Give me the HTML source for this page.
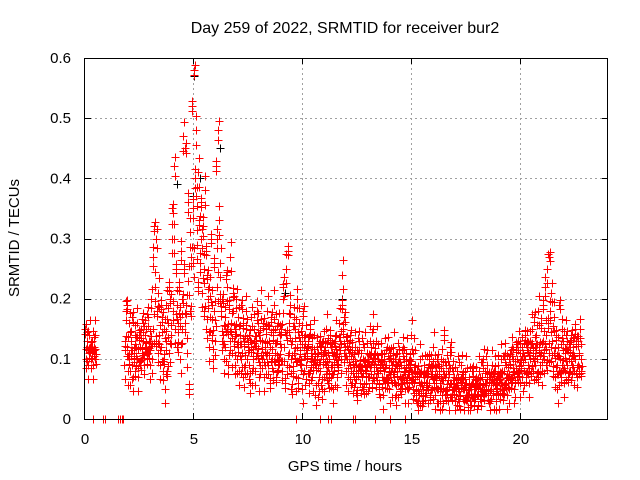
<!DOCTYPE html>
<html><head><meta charset="utf-8"><style>
body{margin:0;background:#fff;}
svg{display:block;font-family:"Liberation Sans",sans-serif;}
</style></head><body>
<svg id="chart" width="640" height="480">
<text x="345" y="33" font-size="16" text-anchor="middle">Day 259 of 2022, SRMTID for receiver bur2</text>
<text x="345" y="471" font-size="15" text-anchor="middle">GPS time / hours</text>
<text transform="translate(19,238) rotate(-90)" font-size="15" text-anchor="middle">SRMTID / TECUs</text>
<g id="grid"></g><g id="ticks"></g><g id="marks" shape-rendering="crispEdges"></g>
<rect x="84.5" y="58.5" width="523" height="361" fill="none" stroke="#000"/>
</svg>
<script>
// each hour row: 10 bins of 0.1 h, each bin a list of SRMTID values (TECU)
const hourRows = [
 [[.15,.10,.12],[.13,.09,.11],[.14,.12,.10],[.11,.13,.09],[.12,.14,.10],[],[],[],[],[]],
 [[],[],[],[],[],[],[],[],[.09,.13,.18],[.19,.12,.08]],
 [[.10,.16,.08],[.13,.09,.17],[.07,.11,.14],[.08,.12,.16],[.10,.07,.14],[.12,.09,.15],[.11,.16,.13],[.09,.14,.12],[.15,.10,.17],[.11,.13,.09]],
 [[.13,.20,.10],[.27,.15,.32],[.22,.13,.30],[.18,.11,.21],[.14,.09,.19],[.12,.17,.08],[.10,.15,.05],[.13,.19,.08],[.16,.22,.11],[.20,.14,.30]],
 [[.35,.18,.30],[.42,.15,.25],[.19,.12,.16],[.22,.17,.10],[.28,.15,.20],[.47,.25,.16],[.45,.19,.11],[.36,.23,.05],[.31,.18,.27],[.52,.35,.26]],
 [[.58,.40,.48],[.37,.29,.22],[.41,.33,.26],[.36,.30,.21],[.32,.25,.18],[.38,.28,.15],[.24,.20,.12],[.22,.17,.30],[.19,.14,.10],[.26,.18,.13]],
 [[.42,.30,.22],[.48,.33,.20],[.26,.18,.13],[.20,.14,.10],[.17,.12,.24],[.22,.15,.09],[.19,.13,.27],[.16,.11,.21],[.18,.13,.09],[.15,.20,.10]],
 [[.12,.17,.08],[.14,.10,.19],[.11,.16,.07],[.13,.09,.18],[.15,.10,.12],[.09,.14,.06],[.12,.17,.08],[.10,.15,.13],[.08,.13,.18],[.11,.16,.07]],
 [[.14,.09,.19],[.10,.13,.16],[.07,.12,.09],[.15,.11,.18],[.09,.13,.06],[.12,.17,.10],[.14,.08,.19],[.11,.15,.07],[.13,.09,.16],[.10,.14,.12]],
 [[.15,.08,.20],[.22,.12,.06],[.25,.14,.09],[.28,.16,.11],[.19,.10,.05],[.13,.08,.17],[.11,.15,.07],[.20,.12,.06],[.16,.10,.13],[.09,.14,.05]],
 [[.18,.12,.08],[.14,.09,.11],[.10,.13,.06],[.15,.08,.11],[.12,.07,.09],[.14,.10,.04],[.09,.12,.06],[.11,.07,.13],[.08,.12,.05],[.10,.13,.07]],
 [[.12,.09,.15],[.08,.11,.06],[.10,.14,.07],[.12,.09,.05],[.11,.08,.13],[.14,.10,.07],[.09,.12,.16],[.13,.10,.19],[.24,.15,.11],[.17,.12,.08]],
 [[.13,.10,.07],[.11,.09,.14],[.08,.12,.06],[.10,.07,.12],[.06,.09,.04],[.11,.08,.13],[.09,.06,.11],[.07,.10,.05],[.12,.09,.06],[.08,.11,.07]],
 [[.10,.07,.13],[.09,.12,.06],[.15,.10,.08],[.11,.07,.13],[.08,.10,.05],[.06,.09,.11],[.10,.07,.04],[.08,.11,.06],[.09,.06,.12],[.07,.10,.05]],
 [[.11,.08,.06],[.09,.12,.07],[.06,.10,.04],[.08,.11,.06],[.10,.07,.05],[.09,.06,.12],[.07,.10,.05],[.08,.11,.06],[.05,.09,.07],[.10,.08,.14]],
 [[.07,.05,.11],[.06,.09,.04],[.05,.08,.03],[.07,.04,.10],[.06,.08,.03],[.05,.07,.09],[.04,.06,.08],[.07,.05,.10],[.06,.04,.09],[.08,.05,.12]],
 [[.06,.09,.04],[.07,.05,.10],[.05,.08,.03],[.06,.10,.04],[.08,.05,.14],[.07,.04,.09],[.05,.08,.03],[.09,.06,.12],[.06,.04,.08],[.05,.07,.03]],
 [[.06,.04,.08],[.05,.07,.03],[.04,.06,.09],[.07,.05,.03],[.05,.08,.04],[.06,.04,.02],[.05,.07,.03],[.04,.06,.08],[.06,.03,.05],[.05,.07,.04]],
 [[.06,.04,.08],[.05,.07,.03],[.07,.05,.10],[.04,.06,.08],[.06,.09,.04],[.05,.07,.03],[.07,.05,.09],[.06,.04,.08],[.08,.05,.03],[.06,.09,.04]],
 [[.07,.05,.10],[.06,.08,.04],[.08,.05,.11],[.06,.09,.04],[.07,.05,.10],[.09,.06,.12],[.07,.10,.05],[.08,.06,.12],[.10,.07,.13],[.08,.11,.06]],
 [[.09,.12,.07],[.11,.08,.14],[.10,.07,.13],[.12,.09,.06],[.13,.10,.08],[.15,.11,.08],[.17,.12,.09],[.14,.10,.07],[.18,.12,.09],[.16,.11,.08]],
 [[.19,.13,.10],[.22,.14,.09],[.25,.16,.11],[.27,.18,.12],[.21,.13,.08],[.17,.11,.07],[.14,.09,.05],[.12,.08,.19],[.10,.07,.15],[.09,.13,.06]],
 [[.11,.08,.14],[.13,.09,.07],[.10,.12,.08],[.14,.09,.11],[.12,.08,.15],[.10,.13,.07],[.13,.09,.11],[.15,.10,.08],[],[]]
];
const zeroTimes = [0.37,0.83,0.92,1.5,1.6,1.7,1.75,9.68,10.78,11.15,11.28,12.3,12.4,13.3,14.0,14.7];
const blackTimes = [4.2,4.95,5.0,6.2,4.0,5.3,9.2,11.8];
const blackValues = [0.39,0.37,0.57,0.45,0.30,0.40,0.21,0.20];
const xTicks = [0,5,10,15,20];
const yTicks = [0,0.1,0.2,0.3,0.4,0.5,0.6];
const yTickLabels = ["0","0.1","0.2","0.3","0.4","0.5","0.6"];
// scatter spread of repeated samples around each bin value (TECU)
const spread = [0,-0.008,0.008];

const X0=85,X1=608,Y0=419,Y1=58,XMAX=24,YMAX=0.6;
const xs=t=>X0+t/XMAX*(X1-X0), ys=v=>Y0-v/YMAX*(Y0-Y1);
const NS="http://www.w3.org/2000/svg";
function mk(tag,attrs,parent){const e=document.createElementNS(NS,tag);for(const k in attrs)e.setAttribute(k,attrs[k]);parent.appendChild(e);return e;}
const grid=document.getElementById('grid'),ticks=document.getElementById('ticks'),marks=document.getElementById('marks');
xTicks.forEach(t=>{const x=Math.round(xs(t))-0.5;
 if(t>0){const g=mk('line',{x1:x,x2:x,y1:Y1,y2:Y0,stroke:'#a0a0a0','stroke-dasharray':'2,3'},grid);
 }
 mk('line',{x1:x,x2:x,y1:Y0,y2:Y0-6,stroke:'#000'},ticks);mk('line',{x1:x,x2:x,y1:Y1,y2:Y1+6,stroke:'#000'},ticks);
 const l=mk('text',{x:xs(t),y:444,'font-size':15,'text-anchor':'middle'},ticks);l.textContent=t;
 });
yTicks.forEach((v,i)=>{const y=Math.round(ys(v))+0.5;
 if(v>0&&v<YMAX){const g=mk('line',{x1:X0,x2:X1,y1:y,y2:y,stroke:'#a0a0a0','stroke-dasharray':'2,3'},grid);
 }
 mk('line',{x1:X0,x2:X0+6,y1:y,y2:y,stroke:'#000'},ticks);mk('line',{x1:X1,x2:X1-6,y1:y,y2:y,stroke:'#000'},ticks);
 const l=mk('text',{x:71,y:ys(v)+5,'font-size':15,'text-anchor':'end'},ticks);l.textContent=yTickLabels[i];
 });
function plus(t,v,col,name){const x=Math.round(xs(t))+0.5,y=Math.round(ys(v))+0.5;
 const p=mk('path',{d:`M${x-4} ${y}H${x+4}M${x} ${y-4}V${y+4}`,stroke:col,'stroke-width':1,fill:'none'},marks);
 
 }
blackTimes.forEach((t,i)=>plus(t,blackValues[i],'#000','black-point'));
hourRows.forEach((row,h)=>row.forEach((bin,b)=>bin.forEach((v,k)=>{
 spread.forEach((d,j)=>{
  const t=h+b*0.1+(k*spread.length+j+0.5)/(bin.length*spread.length)*0.1;
  const vv=j===0?v:Math.max(0.015,v+d*(1+((k+b)%3)));
  plus(t,vv,'#ff0000','srmtid-point');});})));
zeroTimes.forEach(t=>plus(t,0,'#ff0000','zero-point'));
</script>
</body></html>
